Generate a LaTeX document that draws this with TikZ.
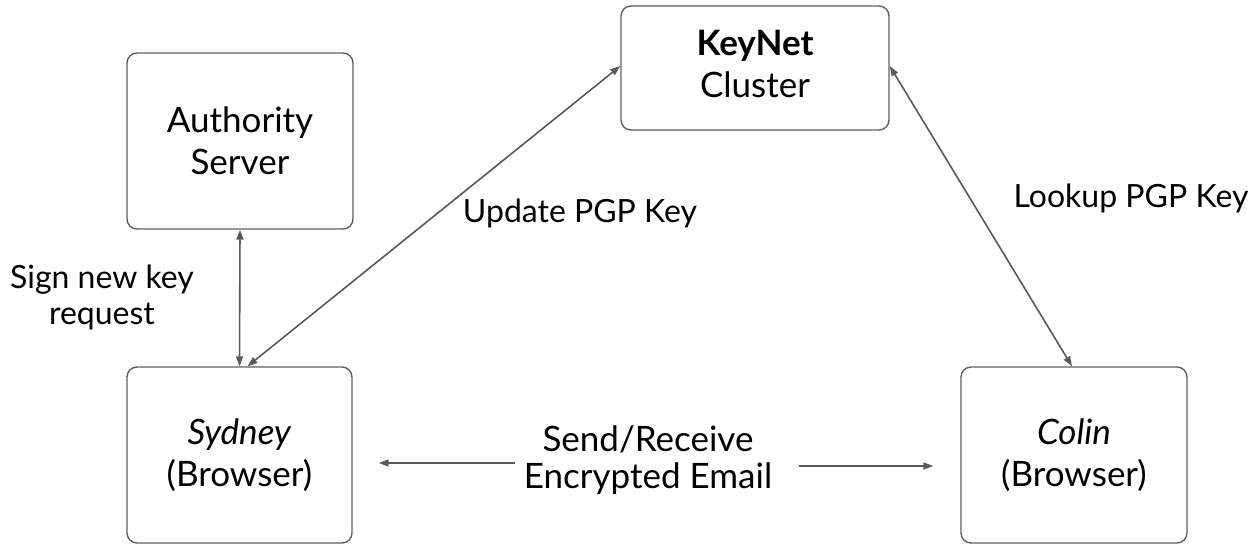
\documentclass[tikz,border=0pt]{standalone}
\usepackage{fontspec}
\setmainfont{Lato}
\usetikzlibrary{arrows.meta}
\definecolor{edge}{HTML}{5F5F5F}
\definecolor{link}{HTML}{595959}
\begin{document}
\begin{tikzpicture}[x=1pt,y=-1pt,
  box/.style={draw=edge, line width=1.4pt, rounded corners=10pt, align=center,
    inner sep=0pt, font=\fontsize{35}{42}\selectfont},
  lbl/.style={align=center, inner sep=0pt, font=\fontsize{32}{36}\selectfont},
  biglbl/.style={align=center, inner sep=0pt, font=\fontsize{35}{37}\selectfont},
  link/.style={draw=link, line width=1.6pt, {Triangle[length=10pt,width=7pt]}-{Triangle[length=10pt,width=7pt]}},
  oneway/.style={draw=link, line width=1.6pt, -{Triangle[length=10pt,width=7pt]}}]
\useasboundingbox (0,0) rectangle (1252,544);

% servers and browsers
\node[box, minimum width=226pt, minimum height=176pt] (auth) at (240,141) {Authority\\Server};
\node[box, minimum width=268pt, minimum height=124pt] (kn) at (755,68) {\textbf{KeyNet}\\Cluster\rule[-8pt]{0pt}{0pt}};
\node[box, minimum width=225pt, minimum height=176pt] (syd) at (239.5,455) {\textit{Sydney}\\(Browser)};
\node[box, minimum width=226pt, minimum height=176pt] (col) at (1074,455) {\textit{Colin}\\(Browser)};

% connector labels
\node[lbl] (sign) at (102,297) {Sign new key\\request};
\node[lbl] (upd) at (580,213) {Update PGP Key};
\node[lbl] (look) at (1131,198) {Lookup PGP Key};
\node[biglbl] (mail) at (648,460) {Send/Receive\\Encrypted Email};

% connectors
\draw[link] (auth.south) -- (syd.north);
\draw[link] ([xshift=8pt]syd.north) -- ([yshift=2pt]kn.west);
\draw[link] ([yshift=2pt]kn.east) -- ([xshift=-2pt]col.north);
\coordinate (ml) at ([xshift=-133pt,yshift=-3pt]mail.center);
\coordinate (mr) at ([xshift=151pt,yshift=-6pt]mail.center);
\coordinate (sl) at ([xshift=26pt]syd.east);
\coordinate (cr) at ([xshift=-27pt]col.west);
\draw[oneway] (ml) -- (sl |- ml);
\draw[oneway] (mr) -- (cr |- mr);
\end{tikzpicture}
\end{document}
